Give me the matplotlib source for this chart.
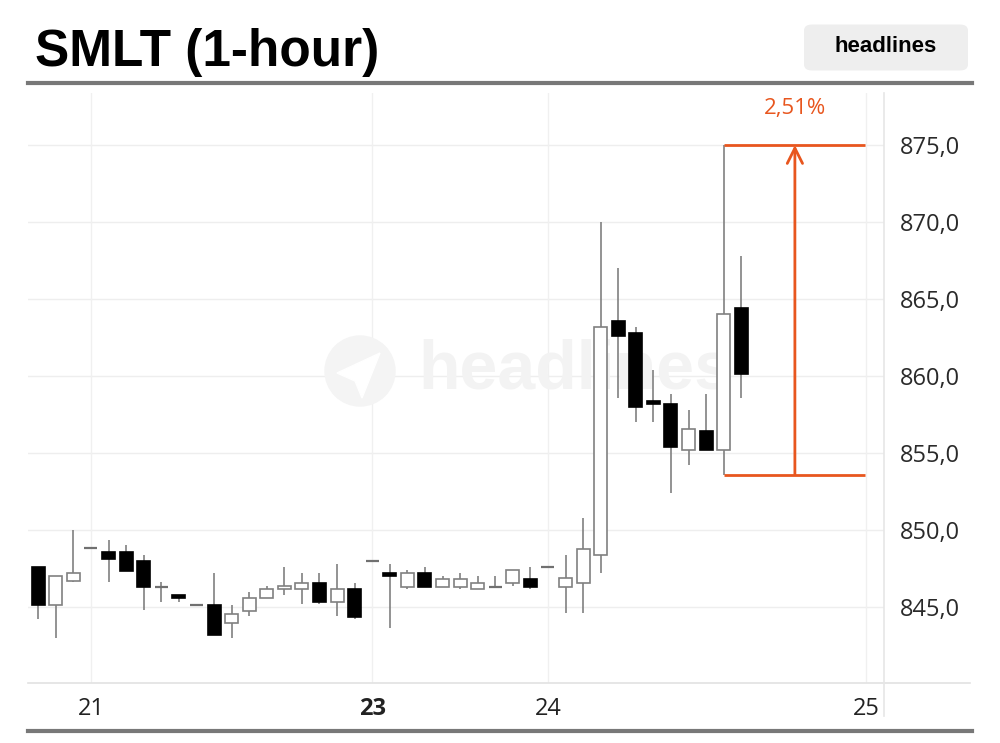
import matplotlib.pyplot as plt
import matplotlib.patches as mpatches
from matplotlib.lines import Line2D
from matplotlib.ticker import FuncFormatter
import numpy as np

# hourly candles
opens = [847.6, 845.1, 846.7, 848.8, 848.55, 848.55, 847.95, 846.3, 845.75, 845.15,
         845.15, 843.95, 844.75, 845.55, 846.15, 846.15, 846.55, 845.3, 846.15, 847.95,
         847.2, 846.3, 847.2, 846.3, 846.3, 846.15, 846.3, 846.55, 846.8, 847.6,
         846.3, 846.55, 848.4, 863.6, 862.8, 858.4, 858.15, 855.2, 856.4, 855.2, 864.4]
highs = [847.6, 847.0, 850.0, 848.8, 849.35, 849.0, 848.4, 846.6, 845.75, 845.15,
         847.2, 845.15, 845.95, 846.35, 847.6, 847.2, 847.2, 847.8, 846.55, 847.95,
         847.8, 847.4, 847.6, 847.0, 847.2, 847.0, 847.0, 847.4, 847.6, 847.6,
         848.35, 850.75, 870.0, 867.0, 863.2, 860.4, 858.8, 857.8, 858.8, 875.0, 867.8]
lows = [844.2, 843.0, 846.6, 848.8, 846.6, 847.35, 844.8, 845.35, 845.35, 845.15,
        843.15, 843.0, 844.4, 845.55, 845.8, 845.2, 845.2, 844.4, 844.2, 847.95,
        843.6, 846.15, 846.3, 846.3, 846.15, 846.15, 846.3, 846.35, 846.15, 847.6,
        844.6, 844.6, 847.2, 858.6, 857.0, 857.0, 852.4, 854.2, 855.2, 853.6, 858.6]
closes = [845.1, 847.0, 847.2, 848.8, 848.1, 847.35, 846.3, 846.3, 845.55, 845.15,
          843.15, 844.55, 845.55, 846.15, 846.35, 846.55, 845.3, 846.15, 844.35, 847.95,
          847.0, 847.2, 846.3, 846.8, 846.8, 846.55, 846.3, 847.4, 846.3, 847.6,
          846.9, 848.75, 863.2, 862.6, 858.0, 858.2, 855.4, 856.55, 855.2, 864.0, 860.15]

day_pos = [3, 19, 29, 47.1]
day_labels = ['21', '23', '24', '25']
y_ticks = [845, 850, 855, 860, 865, 870, 875]

# measured move on the big candle
meas_idx = 39
meas_low = lows[meas_idx]
meas_high = highs[meas_idx]
meas_end = 47.03
arrow_x = 43.05

orange = '#E8561E'
wick_c = '#808080'

fig = plt.figure(figsize=(10, 7.43), dpi=100)
fig.patch.set_facecolor('white')
ax = fig.add_axes([0.028, 0.0808, 0.856, 0.794])
ax.set_facecolor('white')

# grid
for v in y_ticks:
    ax.axhline(v, color='#eeeeee', lw=1, zorder=0)
for p in day_pos:
    ax.axvline(p, color='#f0f0f0', lw=1, zorder=0)

# watermark
ax.text(0.456, 0.529, 'headlines', transform=ax.transAxes, family='Liberation Sans',
        fontweight='bold', fontsize=49, color='#f3f3f3', ha='left', va='center', zorder=0)
ax.add_patch(mpatches.Circle((3.60, 3.72), 0.35, transform=fig.dpi_scale_trans,
                             color='#f4f4f4', zorder=0))
ax.add_patch(mpatches.Polygon([[3.37, 3.70], [3.80, 3.90], [3.62, 3.45], [3.55, 3.62]],
                              closed=True, transform=fig.dpi_scale_trans,
                              color='white', zorder=0))

# candles
w = 0.74
for i in range(len(opens)):
    o, h, l, c = opens[i], highs[i], lows[i], closes[i]
    ax.vlines(i, l, h, color=wick_c, lw=1.2, zorder=2)
    if abs(c - o) < 0.05:
        ax.hlines(o, i - w / 2, i + w / 2, color='#707070', lw=1.6, zorder=3)
        continue
    bear = c < o
    rect = mpatches.Rectangle((i - w / 2, min(o, c)), w, abs(c - o),
                              facecolor='black' if bear else 'white',
                              edgecolor='black' if bear else wick_c,
                              lw=1.2, zorder=3)
    ax.add_patch(rect)

# measurement
ax.hlines([meas_high, meas_low], meas_idx, meas_end, color=orange, lw=2, zorder=4)
ax.annotate('', xy=(arrow_x, meas_high), xytext=(arrow_x, meas_low),
            arrowprops=dict(arrowstyle='->,head_length=1.1,head_width=0.55',
                            color=orange, lw=2, shrinkA=0, shrinkB=0), zorder=4)
pct = (meas_high / meas_low - 1) * 100
ax.text(arrow_x, meas_high + 2.4, f'{pct:.2f}%'.replace('.', ','), color=orange,
        fontsize=16, family='Open Sans', ha='center', va='center')

ax.set_xlim(-0.584, 48.12)
ax.set_ylim(840.06, 878.38)
for s in ax.spines.values():
    s.set_visible(False)

ax.yaxis.tick_right()
ax.set_yticks(y_ticks)
ax.yaxis.set_major_formatter(FuncFormatter(lambda v, p: f'{v:.1f}'.replace('.', ',')))
ax.tick_params(axis='y', length=0, pad=11.5, labelsize=17, labelcolor='#2a2a2a')
ax.set_xticks(day_pos)
ax.set_xticklabels(day_labels)
ax.tick_params(axis='x', length=0, pad=10, labelsize=17, labelcolor='#222222')
for lab in ax.get_yticklabels() + ax.get_xticklabels():
    lab.set_family('Open Sans')
ax.get_xticklabels()[1].set_fontweight('bold')

# frame lines
fig.add_artist(Line2D([0.028, 0.970], [1 - 683 / 743] * 2, color='#e2e2e2', lw=1.2))
fig.add_artist(Line2D([0.884, 0.884], [1 - 93 / 743, 1 - 716 / 743], color='#e6e6e6', lw=1.2))
fig.add_artist(Line2D([0.028, 0.972], [1 - 83 / 743] * 2, color='#787878', lw=3))
fig.add_artist(Line2D([0.028, 0.972], [1 - 731 / 743] * 2, color='#787878', lw=3))

# header
fig.text(0.035, 1 - 66 / 743, 'SMLT (1-hour)', family='Liberation Sans', fontweight='bold',
         fontsize=37, color='black', ha='left', va='baseline')
fig.add_artist(mpatches.FancyBboxPatch((0.806, 1 - 69 / 743), 0.160, 43 / 743,
                                       boxstyle='round,pad=0.002,rounding_size=0.008',
                                       transform=fig.transFigure,
                                       facecolor='#eeeeee', edgecolor='none'))
fig.text(0.886, 1 - 46 / 743, 'headlines', family='Liberation Sans', fontweight='bold',
         fontsize=16, color='black', ha='center', va='center')

plt.savefig('out.png', dpi=100, facecolor='white')
